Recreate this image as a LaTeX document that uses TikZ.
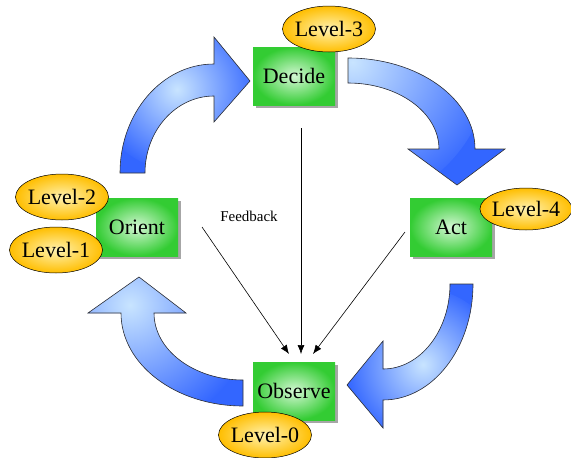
\documentclass[tikz,border=0pt]{standalone}
\usepackage{fontspec}
\setmainfont{Liberation Serif}
\usetikzlibrary{shapes.geometric,shadows,arrows.meta}
\definecolor{boxgreen}{HTML}{33CC33}
\definecolor{boxlight}{HTML}{D4F7D4}
\definecolor{lvlorange}{HTML}{FFBE00}
\definecolor{lvllight}{HTML}{FFF2B0}
\definecolor{arrdark}{HTML}{3366FF}
\definecolor{arrlight}{HTML}{C8E4FF}
\begin{document}
\begin{tikzpicture}[x=1pt,y=-1pt,
    box/.style={rectangle,inner sep=2pt,inner color=boxlight,outer color=boxgreen,
        minimum width=82pt,minimum height=58pt,font=\fontsize{22}{26}\selectfont,
        drop shadow={fill=black!35,opacity=1,shadow xshift=3pt,shadow yshift=-3pt}},
    lvl/.style={ellipse,draw=black,line width=0.5pt,inner xsep=-4pt,inner ysep=0pt,
        inner color=lvllight,outer color=lvlorange,
        minimum width=93pt,minimum height=46pt,font=\fontsize{22}{26}\selectfont},
    bigarrow/.style={draw=black!80,fill=arrdark,line width=0.6pt},
    fb/.style={-{Latex[length=9pt,width=7pt]},line width=0.6pt}]
    \useasboundingbox (0,0) rectangle (571,458);
    % Orient -> Decide
    \draw[bigarrow,path picture={\shade[inner color=arrlight,outer color=arrdark] (177,88) circle (82pt);}]
        (120,173) arc[start angle=180,end angle=270,x radius=94,y radius=109]
        -- (214,37) -- (250,81) -- (214,122) -- (214,96)
        arc[start angle=270,end angle=180,x radius=69,y radius=77] -- cycle;
    % Decide -> Act
    \draw[bigarrow,path picture={\shade[inner color=arrlight,outer color=arrdark] (345,62) circle (145pt);}]
        (348,58) arc[start angle=270,end angle=360,x radius=127,y radius=91]
        -- (505,149) -- (457,185) -- (408,149) -- (439,149)
        arc[start angle=0,end angle=-90,x radius=91,y radius=66] -- cycle;
    % Act -> Observe
    \draw[bigarrow,path picture={\shade[inner color=arrlight,outer color=arrdark] (423,367) circle (78pt);}]
        (473,284) arc[start angle=0,end angle=90,x radius=90,y radius=116]
        -- (383,428) -- (347,385) -- (383,341) -- (383,369)
        arc[start angle=90,end angle=0,x radius=67,y radius=85] -- cycle;
    % Observe -> Orient
    \draw[bigarrow,path picture={\shade[inner color=arrlight,outer color=arrdark] (130,305) circle (125pt);}]
        (243,406) arc[start angle=90,end angle=180,x radius=122,y radius=93]
        -- (88,313) -- (139,277) -- (186,313) -- (154,313)
        arc[start angle=180,end angle=90,x radius=89,y radius=67] -- cycle;

    \node[box] (dec) at (294,76) {Decide};
    \node[box] (ori) at (137,227) {Orient};
    \node[box] (act) at (451,227) {Act};
    \node[box] (obs) at (294,391) {Observe};

    \node[lvl] (lvlA) at (329,29) {Level-3};
    \node[lvl] (lvlB) at (62,197) {Level-2};
    \node[lvl] (lvlC) at (56,250) {Level-1};
    \node[lvl,minimum width=92pt,minimum height=42pt] (lvlD) at (526,209) {Level-4};
    \node[lvl] (lvlE) at (265,435) {Level-0};

    % feedback lines
    \node[font=\fontsize{15}{18}\selectfont] (fbtext) at (249,216) {Feedback};
    \coordinate (fromOri) at (202,227);
    \coordinate (fromDec) at (301,128);
    \coordinate (fromAct) at (405,232);
    \coordinate (toObsL) at (289,354);
    \coordinate (toObsM) at (301,354);
    \coordinate (toObsR) at (313,354);
    \draw[fb] (fromOri) -- (toObsL);
    \draw[fb] (fromDec) -- (toObsM);
    \draw[fb] (fromAct) -- (toObsR);
\end{tikzpicture}
\end{document}
